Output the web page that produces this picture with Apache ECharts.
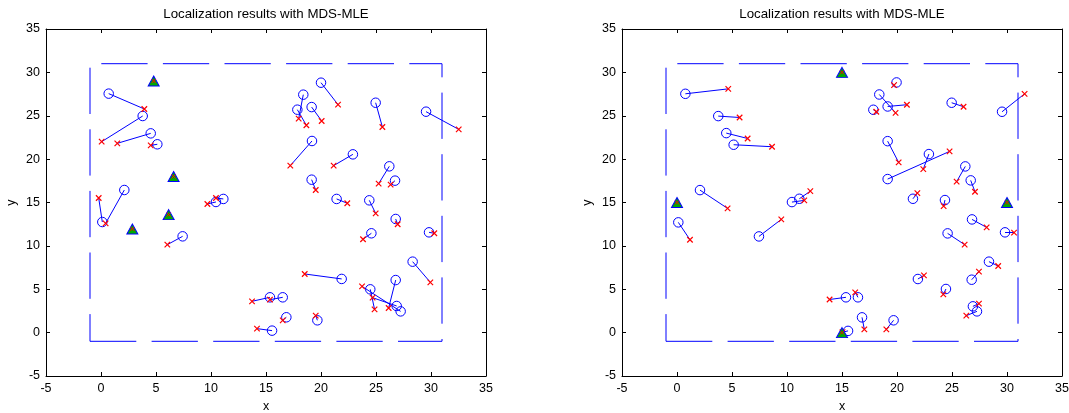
<!DOCTYPE html>
<html><head><meta charset="utf-8">
<script src="https://cdn.jsdelivr.net/npm/echarts/dist/echarts.min.js"></script>
<style>html,body{margin:0;padding:0;background:#fff}#c{width:1069px;height:413px}</style>
</head><body><div id="c"></div>
<script>
// ---- data ----
const chartTitle = 'Localization results with MDS-MLE';
const xTicks = [-5, 0, 5, 10, 15, 20, 25, 30, 35];
const yTicks = [-5, 0, 5, 10, 15, 20, 25, 30, 35];
const boundaryX = [-1, 31, 31, -1, -1];
const boundaryY = [-1, -1, 31, 31, -1];

// left plot: true positions and their estimates (same order)
const leftTrue = [
  [0.70,27.55],[3.79,24.97],[4.52,22.97],[5.12,21.71],[2.12,16.44],[0.12,12.75],
  [7.42,11.10],[10.45,15.06],[11.12,15.41],[20.00,28.81],[18.39,27.43],[17.85,25.70],
  [19.15,26.00],[24.97,26.50],[29.55,25.47],[19.18,22.09],[22.90,20.55],[26.21,19.17],
  [26.73,17.52],[19.15,17.63],[21.42,15.41],[24.39,15.25],[26.79,13.10],[24.58,11.45],
  [29.82,11.56],[28.33,8.18],[21.88,6.19],[26.79,6.06],[24.48,4.99],[26.88,3.07],
  [27.24,2.45],[15.36,4.07],[16.52,4.07],[16.85,1.77],[19.67,1.42],[15.55,0.23]
];
const leftEst = [
  [3.94,25.78],[0.06,22.01],[1.48,21.82],[4.52,21.59],[0.42,12.60],[-0.21,15.52],
  [6.03,10.14],[9.67,14.83],[10.45,15.52],[21.55,26.28],[17.97,24.66],[18.67,23.90],
  [20.06,24.40],[25.58,23.70],[32.52,23.43],[17.21,19.25],[21.15,19.25],[25.24,17.17],
  [26.33,17.06],[19.52,16.44],[22.39,14.91],[24.97,13.75],[26.97,12.49],[23.82,10.76],
  [30.30,11.45],[29.94,5.80],[18.52,6.76],[26.15,2.84],[24.87,2.68],[24.69,4.03],
  [23.73,5.33],[13.73,3.61],[15.36,3.80],[16.52,1.42],[19.52,1.96],[14.18,0.46]
];
const leftAnchors = [[4.79,29.00],[6.60,18.00],[6.15,13.60],[2.85,11.95]];

// right plot
const rightTrue = [
  [0.76,27.53],[3.75,24.96],[4.48,23.00],[5.15,21.66],[2.09,16.43],[0.12,12.71],
  [7.45,11.09],[10.45,15.05],[11.12,15.43],[19.96,28.84],[18.39,27.45],[19.15,26.07],
  [17.85,25.69],[24.97,26.50],[29.55,25.46],[19.15,22.07],[22.90,20.58],[19.15,17.70],
  [26.21,19.16],[26.70,17.55],[21.45,15.43],[24.36,15.28],[26.82,13.05],[29.82,11.56],
  [24.60,11.44],[28.36,8.18],[26.79,6.10],[21.90,6.18],[24.45,5.03],[26.90,3.03],
  [27.27,2.45],[15.36,4.07],[16.45,4.07],[16.82,1.76],[19.69,1.42],[15.55,0.20]
];
const rightEst = [
  [4.66,28.10],[5.69,24.80],[6.42,22.38],[8.64,21.43],[4.60,14.32],[1.18,10.71],
  [9.48,13.05],[11.57,15.24],[12.12,16.31],[19.73,28.53],[19.87,25.34],[20.90,26.27],
  [18.12,25.46],[26.05,26.04],[31.60,27.53],[20.15,19.62],[22.39,18.85],[24.78,20.89],
  [25.42,17.40],[27.09,16.24],[21.85,16.08],[24.24,14.59],[28.15,12.13],[30.64,11.52],
  [26.15,10.14],[29.20,7.68],[27.45,7.03],[22.45,6.60],[24.21,4.41],[27.45,3.34],
  [26.30,1.96],[13.87,3.82],[16.20,4.64],[17.03,0.38],[19.03,0.38],[15.05,0.05]
];
const rightAnchors = [[15,30],[0,15],[30,15],[15,0]];

// ---- chart ----
const FONT = "'Liberation Sans', Arial, Helvetica, sans-serif";
const grids = [
  {left: 46, top: 29, width: 440, height: 347, outerBoundsMode: 'none', containLabel: false},
  {left: 622, top: 29, width: 440, height: 347, outerBoundsMode: 'none', containLabel: false}
];
const panels = [
  {tru: leftTrue, est: leftEst, anc: leftAnchors},
  {tru: rightTrue, est: rightEst, anc: rightAnchors}
];
const XMARK = 'path://M0 0L10 10M10 0L0 10';

function axisBase(g, pos, withLabels, ticks) {
  return {
    gridIndex: g, type: 'value', position: pos,
    min: ticks[0], max: ticks[ticks.length - 1], interval: ticks[1] - ticks[0],
    axisLine: {show: true, onZero: false, lineStyle: {color: '#000', width: 1}},
    axisTick: {show: true, inside: true, length: 4, lineStyle: {color: '#000'}},
    axisLabel: {show: withLabels, color: '#000', fontSize: 12.5, fontFamily: FONT, margin: 6,
                showMinLabel: true, showMaxLabel: true},
    splitLine: {show: false}
  };
}
const xAxes = [], yAxes = [], series = [], graphics = [];
grids.forEach((gr, g) => {
  const xb = axisBase(g, 'bottom', true, xTicks);
  xb.name = 'x'; xb.nameLocation = 'middle'; xb.nameGap = 21;
  xb.nameTextStyle = {color: '#000', fontSize: 12.5, fontFamily: FONT};
  xAxes.push(xb, axisBase(g, 'top', false, xTicks));
  const yl = axisBase(g, 'left', true, yTicks);
  yl.name = 'y'; yl.nameLocation = 'middle'; yl.nameGap = 28; yl.nameRotate = 90;
  yl.nameTextStyle = {color: '#000', fontSize: 12.5, fontFamily: FONT};
  yAxes.push(yl, axisBase(g, 'right', false, yTicks));
  graphics.push({type: 'text', x: gr.left + gr.width / 2, y: 14,
    style: {text: chartTitle, align: 'center', verticalAlign: 'middle',
            fontSize: 13.3, fontFamily: FONT, fill: '#000'}});
  const xi = g * 2, yi = g * 2, p = panels[g];
  series.push({
    type: 'line', xAxisIndex: xi, yAxisIndex: yi, symbol: 'none', silent: true,
    data: boundaryX.map((x, i) => [x, boundaryY[i]]),
    lineStyle: {color: '#0000ff', width: 1, type: [46.3, 15.3]}
  });
  series.push({
    type: 'lines', coordinateSystem: 'cartesian2d', xAxisIndex: xi, yAxisIndex: yi,
    data: p.tru.map((t, i) => ({coords: [t, p.est[i]]})),
    lineStyle: {color: '#0000ff', width: 1, opacity: 1, curveness: 0}, silent: true
  });
  series.push({
    type: 'scatter', xAxisIndex: xi, yAxisIndex: yi, data: p.tru,
    symbol: 'circle', symbolSize: 9.5,
    itemStyle: {color: 'rgba(0,0,0,0)', borderColor: '#0000ff', borderWidth: 1, opacity: 1}
  });
  series.push({
    type: 'scatter', xAxisIndex: xi, yAxisIndex: yi, data: p.est,
    symbol: XMARK, symbolSize: 5.5,
    itemStyle: {color: 'rgba(0,0,0,0)', borderColor: '#ff0000', borderWidth: 1.2, opacity: 1}
  });
  series.push({
    type: 'scatter', xAxisIndex: xi, yAxisIndex: yi, data: p.anc,
    symbol: 'triangle', symbolSize: [11, 10],
    itemStyle: {color: '#00aa00', borderColor: '#0000ff', borderWidth: 1, opacity: 1}
  });
  series.push({
    type: 'scatter', xAxisIndex: xi, yAxisIndex: yi, data: p.anc,
    symbol: XMARK, symbolSize: 4,
    itemStyle: {color: 'rgba(0,0,0,0)', borderColor: '#ff0000', borderWidth: 1, opacity: 1}
  });
});

const chart = echarts.init(document.getElementById('c'), null, {renderer: 'canvas'});
chart.setOption({
  animation: false,
  backgroundColor: '#fff',
  grid: grids,
  xAxis: xAxes,
  yAxis: yAxes,
  graphic: graphics,
  series: series
});
</script></body></html>
